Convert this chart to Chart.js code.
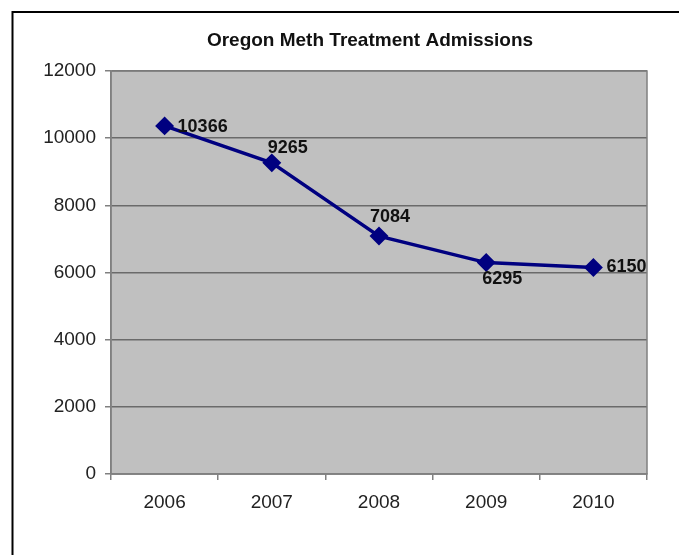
<!DOCTYPE html>
<html>
<head>
<meta charset="utf-8">
<script src="https://cdn.jsdelivr.net/npm/chart.js@4.4.0/dist/chart.umd.min.js"></script>
<style>
  html, body { margin: 0; padding: 0; background: #fff; }
  #wrap { position: relative; width: 679px; height: 555px; }
</style>
</head>
<body>
<div id="wrap"><canvas id="methChart" width="679" height="555"></canvas></div>
<script>
// Oregon meth treatment admissions by year
const years = ['2006', '2007', '2008', '2009', '2010'];
const admissions = [10366, 9265, 7084, 6295, 6150];
const yTicks = [0, 2000, 4000, 6000, 8000, 10000, 12000];

// where each value label sits relative to its point (dx, dy, align)
const labelPlacement = [
  { dx: 13, dy: 1, align: 'left' },
  { dx: 16, dy: -15, align: 'center' },
  { dx: 11, dy: -19, align: 'center' },
  { dx: 16, dy: 16, align: 'center' },
  { dx: 13, dy: 0, align: 'left' }
];

const FONT = 'Arial, "Liberation Sans", sans-serif';

// gray plot background + frame, drawn under the grid
const plotBackground = {
  id: 'plotBackground',
  beforeDraw(chart) {
    const { ctx, chartArea: a } = chart;
    ctx.save();
    ctx.fillStyle = '#c0c0c0';
    ctx.fillRect(a.left, a.top, a.right - a.left, a.bottom - a.top);
    ctx.restore();
  },
  afterDatasetsDraw(chart) {
    const { ctx, chartArea: a } = chart;
    ctx.save();
    ctx.strokeStyle = '#808080';
    ctx.lineWidth = 1.5;
    ctx.strokeRect(a.left, a.top, a.right - a.left, a.bottom - a.top);
    ctx.restore();
  }
};

// title, outer frame edges and value labels
const decorations = {
  id: 'decorations',
  afterDraw(chart) {
    const { ctx } = chart;
    ctx.save();
    ctx.strokeStyle = '#000';
    ctx.lineWidth = 2;
    ctx.beginPath();
    ctx.moveTo(12.5, 555);
    ctx.lineTo(12.5, 12);
    ctx.lineTo(679, 12);
    ctx.stroke();

    ctx.fillStyle = '#111';
    ctx.font = 'bold 19px ' + FONT;
    ctx.textAlign = 'center';
    ctx.textBaseline = 'middle';
    ctx.fillText('Oregon Meth Treatment Admissions', 370, 41);

    const meta = chart.getDatasetMeta(0);
    ctx.font = 'bold 18px ' + FONT;
    meta.data.forEach((pt, i) => {
      const p = labelPlacement[i];
      ctx.textAlign = p.align;
      ctx.fillText(String(admissions[i]), pt.x + p.dx, pt.y + p.dy);
    });
    ctx.restore();
  }
};

new Chart(document.getElementById('methChart'), {
  type: 'line',
  data: {
    labels: years,
    datasets: [{
      data: admissions,
      borderColor: '#000080',
      backgroundColor: '#000080',
      borderWidth: 3.5,
      pointStyle: 'rectRot',
      pointRadius: 7,
      pointHoverRadius: 7,
      tension: 0
    }]
  },
  options: {
    responsive: false,
    animation: false,
    layout: { padding: { left: 31, right: 32, top: 71, bottom: 31 } },
    plugins: {
      legend: { display: false },
      title: { display: false },
      tooltip: { enabled: false }
    },
    scales: {
      x: {
        offset: true,
        grid: {
          offset: true,
          drawOnChartArea: false,
          drawTicks: true,
          tickLength: 6,
          color: '#808080',
          lineWidth: 1.5
        },
        border: { display: true, color: '#808080', width: 1.5 },
        ticks: { color: '#222', font: { family: FONT, size: 19 }, padding: 11 },
        afterFit: s => { s.height = 50; }
      },
      y: {
        min: 0,
        max: 12000,
        afterBuildTicks: s => { s.ticks = yTicks.map(v => ({ value: v })); },
        grid: {
          color: '#6a6a6a',
          lineWidth: 1.5,
          drawTicks: true,
          tickLength: 6,
          tickColor: '#808080'
        },
        border: { display: true, color: '#808080', width: 1.5 },
        ticks: {
          color: '#222',
          font: { family: FONT, size: 19 },
          padding: 9,
          callback: v => String(v)
        },
        afterFit: s => { s.width = 80; }
      }
    }
  },
  plugins: [plotBackground, decorations]
});
</script>
</body>
</html>
